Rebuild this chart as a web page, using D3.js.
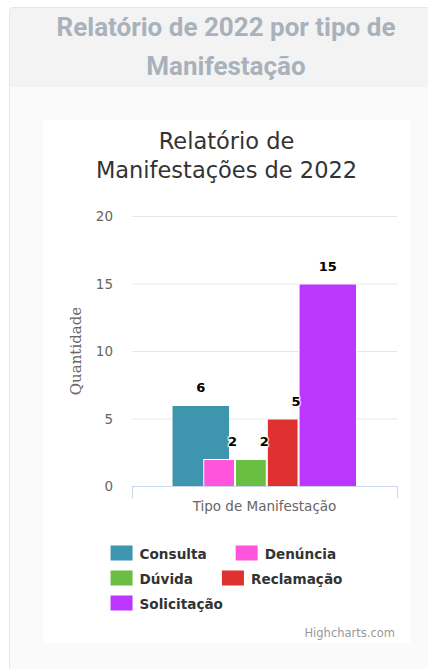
<!DOCTYPE html>
<html>
<head>
<meta charset="utf-8">
<title>Relatório de 2022</title>
<script src="https://d3js.org/d3.v7.min.js"></script>
<style>
    body{
        margin:0;
        background:#fff;
        width:428px;
        height:669px;
        overflow:hidden;
        position:relative;
    }
    .card{
        position:absolute;
        left:9px;
        top:7px;
        width:432px;
        height:680px;
        border:1px solid #e6e6e6;
        border-radius:4px;
        background:#fafafa;
        overflow:hidden;
    }
    .card-header{
        height:79px;
        background:#f3f3f4;
        text-align:center;
        font-family:Roboto, sans-serif;
        font-weight:700;
        font-size:26px;
        line-height:39px;
        color:#a9b2bb;
    }
    #chart{
        position:absolute;
        left:43px;
        top:120px;
        background:#fff;
    }
</style>
</head>
<body>
<div class="card">
    <div class="card-header">Relatório de 2022 por tipo de<br>Manifestação</div>
</div>
<svg id="chart" width="367" height="523"></svg>
<script>
    // data
    const titleLines = ["Relatório de", "Manifestações de 2022"];
    const category = "Tipo de Manifestação";
    const seriesNames = ["Consulta", "Denúncia", "Dúvida", "Reclamação", "Solicitação"];
    const seriesValues = [6, 2, 2, 5, 15];
    const seriesColors = ["#3d96ae", "#ff55dd", "#6abe42", "#e03131", "#bd36fd"];
    const yTicks = [0, 5, 10, 15, 20];

    const svg = d3.select("svg#chart");
    const font = "'DejaVu Sans', sans-serif";

    // plot area
    const plotLeft = 89, plotRight = 354, plotTop = 96, plotBottom = 366;

    const y = d3.scaleLinear().domain([0, 20]).range([plotBottom, plotTop]);
    const xCat = d3.scaleBand().domain([category]).range([plotLeft, plotRight]);
    const slot = d3.scaleBand().domain(seriesNames)
        .range([xCat(category) + 39.5, xCat(category) + 198.3]);
    const wideWidth = 58.5;

    // title
    svg.selectAll("text.title").data(titleLines)
        .join("text")
        .attr("class", "title")
        .attr("x", 183.5)
        .attr("y", (d, i) => 29 + i * 29)
        .attr("text-anchor", "middle")
        .attr("font-family", font)
        .attr("font-size", 22.5)
        .attr("fill", "#333")
        .text(d => d);

    // gridlines
    svg.selectAll("line.grid").data(yTicks.filter(d => d > 0))
        .join("line")
        .attr("class", "grid")
        .attr("x1", plotLeft).attr("x2", plotRight)
        .attr("y1", d => y(d) + 0.5).attr("y2", d => y(d) + 0.5)
        .attr("stroke", "#e6e6e6");

    // y labels
    svg.selectAll("text.ytick").data(yTicks)
        .join("text")
        .attr("class", "ytick")
        .attr("x", 70)
        .attr("y", d => y(d) + 5)
        .attr("text-anchor", "end")
        .attr("font-family", font)
        .attr("font-size", 13.5)
        .attr("fill", "#666")
        .text(d => d);

    svg.append("text")
        .attr("transform", `translate(38,${(plotTop + plotBottom) / 2}) rotate(-90)`)
        .attr("text-anchor", "middle")
        .attr("font-family", "'DejaVu Serif', serif")
        .attr("font-size", 15)
        .attr("fill", "#666")
        .text("Quantidade");

    // bars
    const bars = seriesNames.map((name, i) => ({
        name: name,
        value: seriesValues[i],
        color: seriesColors[i],
        wide: i === 0 || i === seriesNames.length - 1
    }));

    svg.selectAll("rect.bar").data(bars)
        .join("rect")
        .attr("class", "bar")
        .attr("x", d => slot(d.name) + 0.5)
        .attr("y", d => y(d.value) + 0.5)
        .attr("width", d => (d.wide ? wideWidth : slot.bandwidth()) - 1)
        .attr("height", d => y(0) - y(d.value))
        .attr("fill", d => d.color)
        .attr("stroke", "#fff")
        .attr("stroke-width", 1);

    // x axis
    svg.append("line")
        .attr("x1", plotLeft).attr("x2", plotRight)
        .attr("y1", plotBottom + 0.5).attr("y2", plotBottom + 0.5)
        .attr("stroke", "#ccd6eb");
    svg.selectAll("line.xtick").data([plotLeft, plotRight])
        .join("line")
        .attr("class", "xtick")
        .attr("x1", d => d + 0.5).attr("x2", d => d + 0.5)
        .attr("y1", plotBottom).attr("y2", plotBottom + 12)
        .attr("stroke", "#ccd6eb");
    svg.append("text")
        .attr("x", xCat(category) + xCat.bandwidth() / 2)
        .attr("y", 391)
        .attr("text-anchor", "middle")
        .attr("font-family", font)
        .attr("font-size", 13.5)
        .attr("fill", "#666")
        .text(category);

    // data labels (with white outline)
    const labels = svg.selectAll("g.dlabel").data(bars)
        .join("g").attr("class", "dlabel");
    [true, false].forEach(outline => {
        labels.append("text")
            .attr("x", d => slot(d.name) + wideWidth / 2)
            .attr("y", d => y(d.value) - 13)
            .attr("text-anchor", "middle")
            .attr("font-family", font)
            .attr("font-weight", "bold")
            .attr("font-size", 13)
            .attr("fill", outline ? "#fff" : "#000")
            .attr("stroke", outline ? "#fff" : "none")
            .attr("stroke-width", outline ? 3 : 0)
            .attr("stroke-linejoin", "round")
            .attr("opacity", outline ? 0.7 : 1)
            .text(d => d.value);
    });

    // legend, flowing layout
    const legend = svg.append("g");
    const symW = 22, symH = 15, textGap = 7, itemGap = 29, maxRow = 240, rowH = 25;
    const items = legend.selectAll("g.item").data(bars)
        .join("g").attr("class", "item");
    items.append("rect")
        .attr("width", symW).attr("height", symH)
        .attr("y", -symH / 2)
        .attr("fill", d => d.color);
    items.append("text")
        .attr("x", symW + textGap)
        .attr("y", 5.5)
        .attr("font-family", font)
        .attr("font-weight", "bold")
        .attr("font-size", 13.6)
        .attr("fill", "#333")
        .text(d => d.name);

    let cx = 0, row = 0, widest = 0;
    items.each(function(d) {
        const w = symW + textGap + d3.select(this).select("text").node().getComputedTextLength();
        if (cx > 0 && cx + w > maxRow) { row++; cx = 0; }
        d.lx = cx; d.row = row;
        widest = Math.max(widest, cx + w);
        cx += w + itemGap;
    });
    const legendX = 183.5 - widest / 2;
    items.attr("transform", d => `translate(${legendX + d.lx},${433 + d.row * rowH})`);

    // credits
    svg.append("text")
        .attr("x", 352)
        .attr("y", 517)
        .attr("text-anchor", "end")
        .attr("font-family", font)
        .attr("font-size", 11.5)
        .attr("fill", "#999")
        .text("Highcharts.com");
</script>
</body>
</html>
